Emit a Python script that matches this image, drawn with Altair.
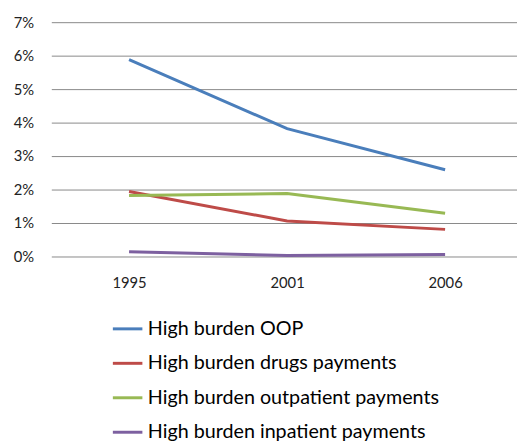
import altair as alt
import pandas as pd

years = ["1995", "2001", "2006"]
series_names = [
    "High burden OOP",
    "High burden drugs payments",
    "High burden outpatient payments",
    "High burden inpatient payments",
]
oop = [0.0588, 0.0382, 0.0259]
drugs = [0.0194, 0.0106, 0.0081]
outpatient = [0.0182, 0.0188, 0.0129]
inpatient = [0.0014, 0.0003, 0.0006]
colors = ["#4A7EBB", "#BE4B48", "#98B954", "#7D60A0"]

rows = []
for name, vals in zip(series_names, [oop, drugs, outpatient, inpatient]):
    for i, (y, v) in enumerate(zip(years, vals)):
        rows.append({"Idx": i, "Year": y, "Series": name, "Value": v})
df = pd.DataFrame(rows)

label_expr = "[" + ",".join(f"'{y}'" for y in years) + "][datum.value]"

chart = alt.Chart(df).mark_line(strokeWidth=3).encode(
    x=alt.X("Idx:Q", title=None,
            scale=alt.Scale(domain=[-0.492, 2.455], nice=False, zero=False),
            axis=alt.Axis(values=[0, 1, 2], labelExpr=label_expr,
                          labelAngle=0, domain=False, ticks=False, grid=False,
                          labelPadding=20, labelFontSize=15, labelFont="Lato",
                          labelColor="#222222")),
    y=alt.Y("Value:Q", title=None,
            scale=alt.Scale(domain=[0, 0.07], nice=False),
            axis=alt.Axis(format=".0%", values=[0, 0.01, 0.02, 0.03, 0.04, 0.05, 0.06, 0.07],
                          domain=False, ticks=False, labelPadding=18,
                          labelFontSize=15, labelFont="Lato", labelColor="#222222",
                          gridColor="#888888", gridWidth=1)),
    color=alt.Color("Series:N", sort=series_names,
                    scale=alt.Scale(domain=series_names, range=colors),
                    legend=alt.Legend(title=None, orient="none", legendX=61, legendY=295,
                                      symbolType="stroke", symbolSize=900,
                                      symbolStrokeWidth=3, labelFontSize=20,
                                      labelFont="Lato", labelColor="#000000",
                                      rowPadding=8, labelOffset=4, labelLimit=500)),
).properties(
    width=473, height=238,
    autosize=alt.AutoSizeParams(type="none"),
    padding={"left": 44, "top": 11, "right": 0, "bottom": 184},
).configure_view(stroke=None)

chart.save("out.html", embed_options={"renderer": "svg", "actions": False})
